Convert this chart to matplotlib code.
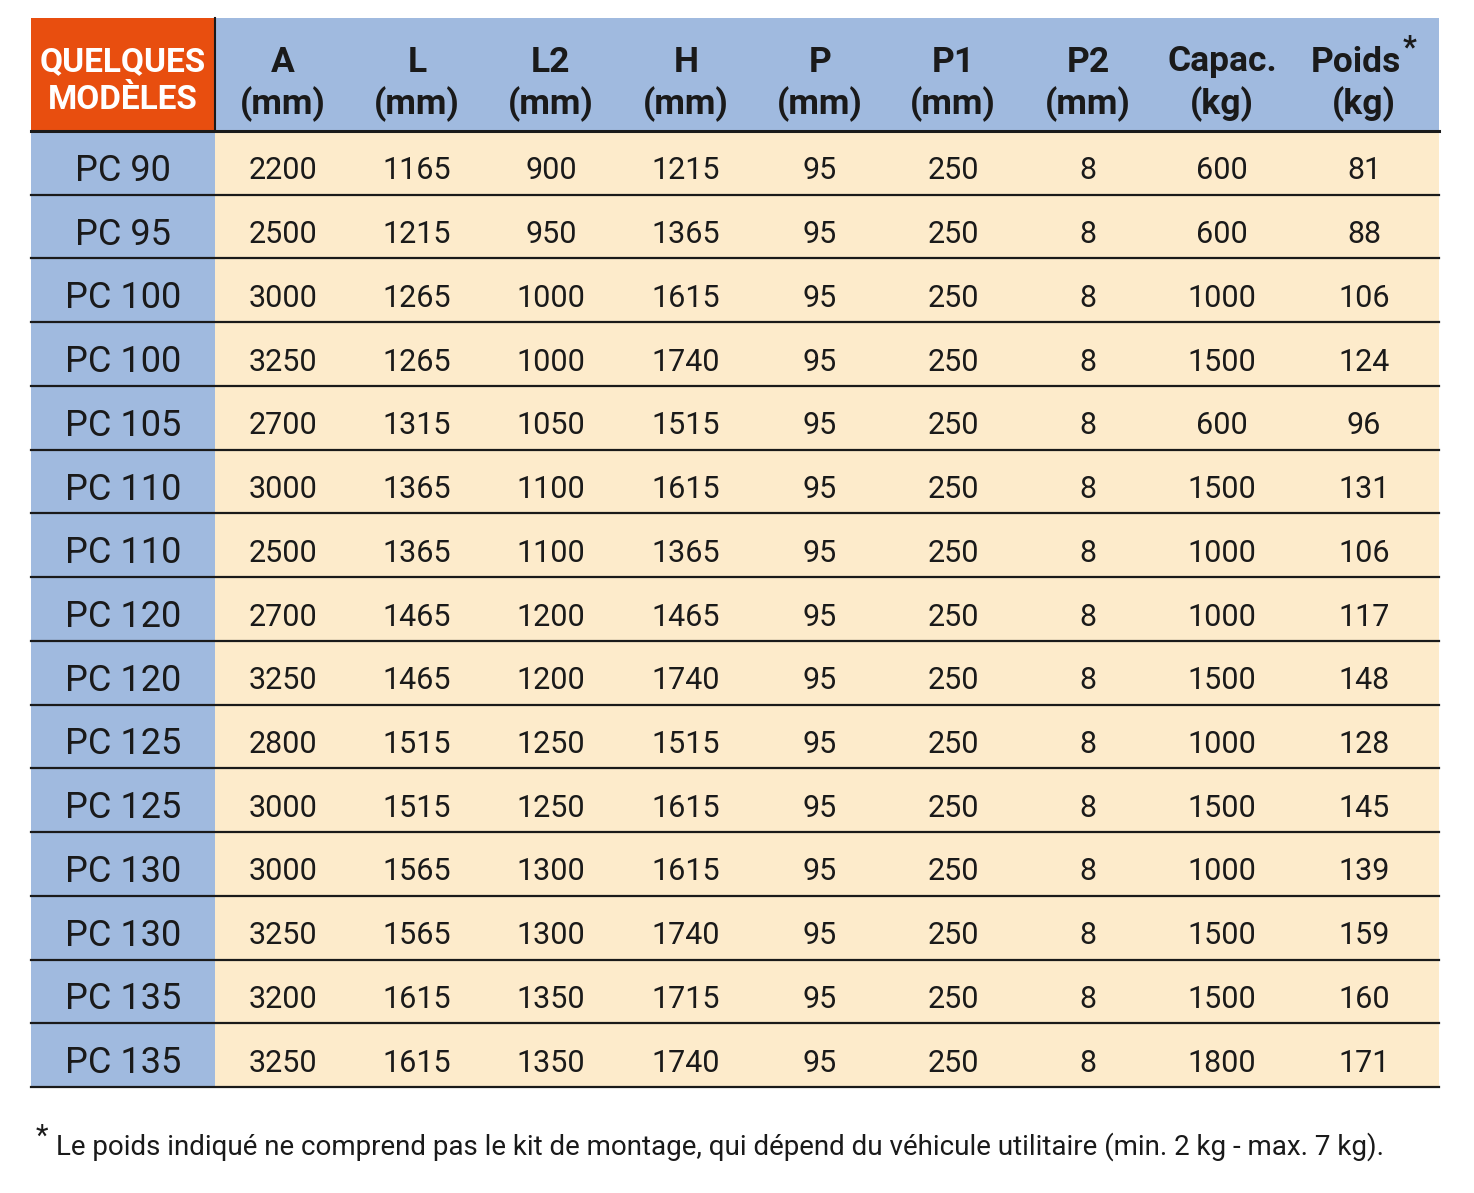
import matplotlib.pyplot as plt
from matplotlib.patches import Rectangle

# table content
models = ["PC 90", "PC 95", "PC 100", "PC 100", "PC 105", "PC 110", "PC 110", "PC 120",
          "PC 120", "PC 125", "PC 125", "PC 130", "PC 130", "PC 135", "PC 135"]
col_A = [2200, 2500, 3000, 3250, 2700, 3000, 2500, 2700, 3250, 2800, 3000, 3000, 3250, 3200, 3250]
col_L = [1165, 1215, 1265, 1265, 1315, 1365, 1365, 1465, 1465, 1515, 1515, 1565, 1565, 1615, 1615]
col_L2 = [900, 950, 1000, 1000, 1050, 1100, 1100, 1200, 1200, 1250, 1250, 1300, 1300, 1350, 1350]
col_H = [1215, 1365, 1615, 1740, 1515, 1615, 1365, 1465, 1740, 1515, 1615, 1615, 1740, 1715, 1740]
col_P = [95] * 15
col_P1 = [250] * 15
col_P2 = [8] * 15
col_capac = [600, 600, 1000, 1500, 600, 1500, 1000, 1000, 1500, 1000, 1500, 1000, 1500, 1500, 1800]
col_poids = [81, 88, 106, 124, 96, 131, 106, 117, 148, 128, 145, 139, 159, 160, 171]

head_top = ["A", "L", "L2", "H", "P", "P1", "P2", "Capac.", "Poids"]
head_unit = ["(mm)", "(mm)", "(mm)", "(mm)", "(mm)", "(mm)", "(mm)", "(kg)", "(kg)"]
columns = [col_A, col_L, col_L2, col_H, col_P, col_P1, col_P2, col_capac, col_poids]
footnote = "Le poids indiqué ne comprend pas le kit de montage, qui dépend du véhicule utilitaire (min. 2 kg - max. 7 kg)."

orange = "#E84E0F"
blue = "#A0BADF"
cream = "#FDEBCB"
ink = "#1a1a1a"

plt.rcParams['font.family'] = ['Roboto', 'DejaVu Sans']

fig = plt.figure(figsize=(14.74, 11.93), dpi=100)
ax = fig.add_axes([0, 0, 1, 1])
ax.set_xlim(0, 1474)
ax.set_ylim(1193, 0)
ax.axis('off')

left, right = 31, 1439
first_w = 215
top, head_bot = 18, 131
row_h = (1087 - head_bot) / len(models)
centers = [283, 417, 551, 686, 820, 953, 1088, 1222, 1364]

# header
ax.add_patch(Rectangle((left, top), first_w - left, head_bot - top, color=orange, lw=0))
ax.add_patch(Rectangle((first_w, top), right - first_w, head_bot - top, color=blue, lw=0))
ax.plot([first_w, first_w], [top, head_bot], color=ink, lw=1.5)
ax.text((left + first_w) / 2, 81, "QUELQUES\nMODÈLES", color="white", fontsize=24,
        fontweight='bold', ha='center', va='center', linespacing=1.25)
for i, (cx, t, u) in enumerate(zip(centers, head_top, head_unit)):
    tx = cx - 8 if t == "Poids" else cx  # room for the asterisk
    ax.text(tx, 62, t, fontsize=25.5, fontweight='bold', ha='center', va='center', color=ink)
    ax.text(cx, 104, u, fontsize=25.5, fontweight='bold', ha='center', va='center', color=ink)
ax.text(1403, 47, "*", fontsize=22, fontweight='bold', ha='left', va='center', color=ink)

# body
n = len(models)
ax.add_patch(Rectangle((left, head_bot), first_w - left, n * row_h, color=blue, lw=0))
ax.add_patch(Rectangle((first_w, head_bot), right - first_w, n * row_h, color=cream, lw=0))
for i, m in enumerate(models):
    y = head_bot + (i + 0.5) * row_h + 8
    ax.text((left + first_w) / 2, y, m, fontsize=26, ha='center', va='center', color=ink)
    for cx, col in zip(centers, columns):
        ax.text(cx, y, str(col[i]), fontsize=22, ha='center', va='center', color=ink)

ax.plot([left, right], [head_bot, head_bot], color=ink, lw=2.2)
for i in range(1, n + 1):
    yy = head_bot + i * row_h
    ax.plot([left, right], [yy, yy], color=ink, lw=1.6)

# footnote
ax.text(36, 1137, "*", fontsize=21, ha='left', va='center', color=ink)
ax.text(56, 1147, footnote, fontsize=20, ha='left', va='center', color=ink)

fig.savefig("out.png", dpi=100)
